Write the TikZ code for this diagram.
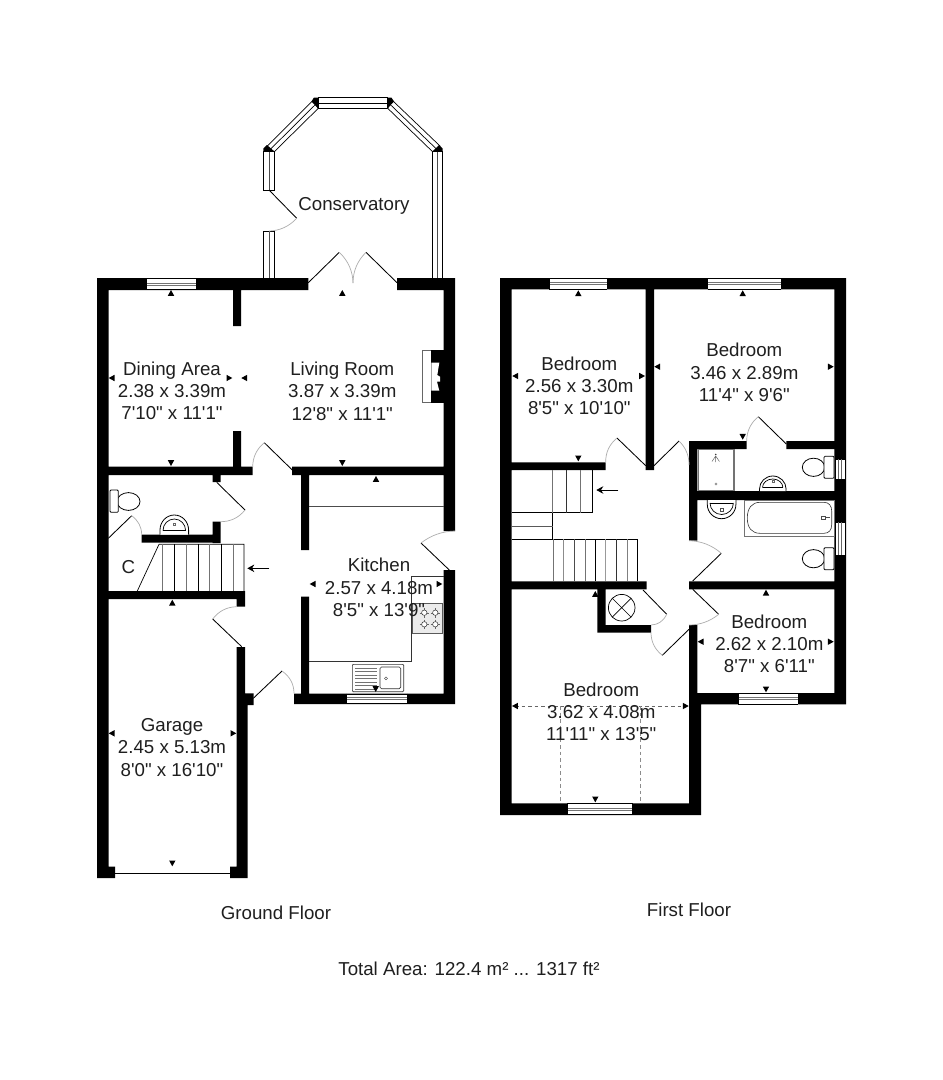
\documentclass[tikz,border=0pt]{standalone}
\usepackage{fontspec}
\newfontfamily\planfont{Liberation Sans}
\usetikzlibrary{calc,arrows.meta}
\definecolor{swinggray}{gray}{0.68}
\definecolor{inkgray}{gray}{0.12}
\tikzset{
  wall/.style={fill=black,draw=none},
  leaf/.style={draw=black,line width=0.85pt},
  swing/.style={draw=swinggray,line width=0.7pt},
  thinline/.style={draw=black,line width=0.7pt},
  fixture/.style={draw=black,line width=0.8pt,fill=white},
  grayfix/.style={draw=black!55,line width=0.9pt},
  tread/.style={draw=black!65,line width=0.65pt},
  roomlabel/.style={font=\planfont\fontsize{18.7}{22.3}\selectfont,align=center,text=inkgray,inner sep=0pt}
}
% markers
\newcommand{\mup}[2]{\fill[black] (#1-3.2,#2+2.8) -- (#1+3.2,#2+2.8) -- (#1,#2-3) -- cycle;}
\newcommand{\mdn}[2]{\fill[black] (#1-3.2,#2-2.8) -- (#1+3.2,#2-2.8) -- (#1,#2+3) -- cycle;}
\newcommand{\mlf}[2]{\fill[black] (#1+2.8,#2-3.2) -- (#1+2.8,#2+3.2) -- (#1-3,#2) -- cycle;}
\newcommand{\mrt}[2]{\fill[black] (#1-2.8,#2-3.2) -- (#1-2.8,#2+3.2) -- (#1+3,#2) -- cycle;}
% door: hinge, leaf tip, arc end (45 degree swing)
\newcommand{\planDoor}[3]{%
  \draw[leaf] (#1) -- (#2);
  \draw[swing] (#2) .. controls ($0.724*(#2)+0.390*(#3)-0.114*(#1)$) and ($0.390*(#2)+0.724*(#3)-0.114*(#1)$) .. (#3);}
% windows
\newcommand{\hwin}[4]{% x1 x2 y1 y2
  \fill[white] (#1,#3) rectangle (#2,#4);
  \draw[black,line width=0.55pt] (#1,#3+0.3) -- (#2,#3+0.3) (#1,#4-0.3) -- (#2,#4-0.3);
  \draw[black!55,line width=0.9pt] (#1,{(#3+#4)/2-1}) -- (#2,{(#3+#4)/2-1}) (#1,{(#3+#4)/2+1}) -- (#2,{(#3+#4)/2+1});
  \draw[black,line width=0.5pt] (#1,#3) -- (#1,#4) (#2,#3) -- (#2,#4);}
\newcommand{\vwin}[4]{% x1 x2 y1 y2
  \fill[white] (#1,#3) rectangle (#2,#4);
  \draw[black,line width=0.65pt] (#1,#3) rectangle (#2,#4);
  \draw[black!70,line width=0.8pt] ({(#1+#2)/2},#3) -- ({(#1+#2)/2},#4);}
\newcommand{\consband}[4]{% outer a, outer b, inner b, inner a
  \draw[black,line width=0.7pt,fill=white] (#1) -- (#2) -- (#3) -- (#4) -- cycle;
  \draw[black,line width=0.7pt] ($(#1)!0.5!(#4)$) -- ($(#2)!0.5!(#3)$);}
% toilet (cistern on right wall)
\newcommand{\wcright}[2]{% x of wall, y centre
  \draw[fixture] (#1-20.5,#2) ellipse (11.2 and 9.1);
  \draw[fixture,rounded corners=1pt] (#1-10,#2-11) rectangle (#1,#2+11);}
\newcommand{\burner}[2]{%
  \draw[black!60,line width=0.4pt] (#1-4.8,#2) -- (#1+4.8,#2) (#1,#2-4.8) -- (#1,#2+4.8);
  \draw[black!80,fill=white,line width=0.5pt] (#1,#2) circle (2.7);}
\begin{document}
\begin{tikzpicture}[x=1pt,y=-1pt]
\useasboundingbox (0,0) rectangle (943,1080);
\fill[white] (0,0) rectangle (943,1080);

%%% ---------- GROUND FLOOR ----------
% conservatory
\vwin{263.3}{274.7}{151.7}{190.3}
\vwin{263.3}{274.7}{231}{278}
\vwin{432.3}{442.7}{151.7}{278}
\consband{265,148.3}{312.7,100.7}{318.3,108.3}{274.3,151.7}
\consband{318,97.7}{387.3,97.7}{387.3,108.3}{318,108.3}
\consband{392.7,100.7}{440,146}{432.6,151.7}{387.7,108.3}
\fill[black] (318,97.7) -- (313.8,97.7) -- (311.5,101.5) -- (318,108.3) -- cycle;
\fill[black] (387.3,97.7) -- (391.5,97.7) -- (394,101.5) -- (387.3,108.3) -- cycle;
\fill[black] (263.3,151.7) -- (263.3,148.5) -- (267,145) -- (274.7,151.7) -- cycle;
\fill[black] (442.7,151.7) -- (442.7,148.5) -- (439,145) -- (432.3,151.7) -- cycle;
\planDoor{269,190}{296.7,218.3}{269,231}
\planDoor{308.3,282.7}{339.3,252.3}{353,283}
\planDoor{397,282.7}{366,252.3}{353,283}

% walls
\fill[wall]
  (97,278) rectangle (308.3,290)
  (397,278) rectangle (455,290)
  (97,278) rectangle (108.5,878)
  (443.5,278) rectangle (455,531)
  (443.5,570) rectangle (455,704)
  (294,693.7) rectangle (455,704)
  (233,290) rectangle (241,326)
  (233,431) rectangle (241,475)
  (108,466.7) rectangle (252.7,475)
  (292,466.7) rectangle (444,475)
  (212.7,475) rectangle (220.7,482)
  (301,475) rectangle (309,550)
  (301,596.7) rectangle (309,694)
  (141.7,534.7) rectangle (220.7,542.7)
  (212.7,521.7) rectangle (220.7,543)
  (108,591) rectangle (245,599)
  (236.7,599) rectangle (245,606.7)
  (236.7,647) rectangle (245,705)
  (236.7,693.3) rectangle (253.7,705)
  (236.7,705) rectangle (247.7,878)
  (97,866.7) rectangle (115,878)
  (230,866.7) rectangle (247.7,878);
\hwin{146}{196}{278}{290}
\hwin{346}{407}{693.7}{704}

% fireplace
\fill[white] (422.3,350.7) rectangle (431.3,402.7);
\draw[black!60,line width=0.6pt] (431.3,350.7) -- (422.3,350.7) -- (422.3,402.7) -- (431.3,402.7);
\fill[wall] (431.3,350) rectangle (444,402.7);
\fill[white] (431.3,362.7) -- (439.3,362.7) -- (437.3,375) -- (440,376.7) -- (440,381.7) -- (437,381.7) -- (439.3,390.7) -- (431.3,390.7) -- cycle;

% doors
\planDoor{292.3,470}{264.3,442.7}{252.7,467}
\planDoor{216.7,482.3}{245,510}{220.7,521.7}
\planDoor{108.3,538.3}{131.7,515.7}{141.7,534.7}
\planDoor{449.3,570}{421,543}{455,531}
\planDoor{241.7,646.7}{212.7,619}{236.7,606.7}
\planDoor{253.3,698.3}{282,671}{294,693.3}

% WC
\draw[fixture] (128.5,501.5) ellipse (11.5 and 8.9);
\draw[fixture,rounded corners=1pt] (110,490) rectangle (118.3,512.3);
\draw[fixture] (160,534.7) -- (160,530) arc[start angle=180,end angle=360,x radius=14.3,y radius=15] -- (188.6,534.7);
\draw[thinline,fill=white] (163,530.5) arc[start angle=180,end angle=360,x radius=11.3,y radius=11.5];
\draw[thinline] (163,530.5) -- (185.6,530.5);
\draw[black!60,line width=0.5pt] (173.2,523) rectangle (175.4,525);

% ground stairs
\draw[thinline] (137.3,591) -- (159,544.3) -- (244,544.3) -- (244,591);
\foreach \x/\c in {162.7/55,174.7/100,186.7/55,198.3/100,209.3/55,221.7/100,233.3/55}
  \draw[black!\c,line width=0.6pt] (\x,544.3) -- (\x,591);
\draw[black,line width=0.9pt,-{Stealth[length=7pt,width=7.5pt]}] (269.3,568.3) -- (247.3,568.3);

% kitchen
\draw[black!70,line width=0.6pt] (309,506.7) -- (444,506.7);
\draw[black!80,line width=0.6pt] (309,661.3) -- (411.7,661.3) -- (411.7,576.7) -- (443.5,576.7);
\fill[black!8] (412.3,603.3) rectangle (442.7,633.3);
\draw[black!65,line width=0.7pt] (412.3,603.3) rectangle (442.7,633.3);
\burner{424.3}{612.7}\burner{435.3}{612.7}\burner{424.3}{624.3}\burner{435.3}{624.3}
\draw[black!80,fill=white,line width=0.6pt,rounded corners=1pt] (352.3,664.3) rectangle (403.7,691.7);
\draw[black!80,line width=0.6pt,rounded corners=1.5pt] (380,667) rectangle (400.7,688.7);
\draw[black!80,line width=0.4pt] (386,678.3) circle (1.5);
\foreach \y in {668,671.5,675,678.5,682,685.5,689}
  \draw[black!55,line width=0.4pt] (355,\y) -- (377.3,\y);

% garage door
\draw[black,line width=0.8pt] (115,873) -- (230,873);

%%% ---------- FIRST FLOOR ----------
\fill[wall]
  (500,278) rectangle (846,289.3)
  (500,278) rectangle (511.7,815)
  (834.3,278) rectangle (846,704.3)
  (645.7,289) rectangle (654,470)
  (511,462.3) rectangle (605.7,470)
  (689,441) rectangle (746.7,449)
  (786.3,441) rectangle (835,449)
  (689,441) rectangle (697.3,540.7)
  (697,491) rectangle (835,500)
  (511,581.3) rectangle (646.7,589.3)
  (689,581.3) rectangle (835,589.3)
  (597.3,589) rectangle (605.7,632.7)
  (597.3,625) rectangle (651,632.7)
  (689,625) rectangle (697.3,693)
  (697,693) rectangle (846,704.3)
  (689,693) rectangle (701,815)
  (500,803.3) rectangle (701,815);
\hwin{549}{607.3}{278}{289.3}
\hwin{707.7}{781}{278}{289.3}
\hwin{738}{798.3}{693}{704.3}
\hwin{567.3}{632.3}{803.3}{815}
\fill[white] (835,459) rectangle (845.3,479.3);
\draw[black,line width=0.55pt] (835,459) rectangle (845.3,479.3);
\draw[black!60,line width=0.7pt] (838.5,459) -- (838.5,479.3) (841.8,459) -- (841.8,479.3);
\fill[white] (835,522.3) rectangle (845.3,555);
\draw[black,line width=0.55pt] (835,522.3) rectangle (845.3,555);
\draw[black!60,line width=0.7pt] (838.5,522.3) -- (838.5,555) (841.8,522.3) -- (841.8,555);

% doors
\planDoor{645.7,465.7}{617,438}{605.7,462.3}
\planDoor{654,465.7}{679,441}{689,465}
\planDoor{786.3,444}{758.3,416.7}{746.7,441}
\planDoor{692.7,581}{721.3,553.3}{689,540.7}
\planDoor{692.7,589.3}{718.7,614.3}{689,625}
\planDoor{643,590}{666.7,614.3}{651,625}
\planDoor{689,629.3}{662.3,655.3}{651,632.7}

% stairs
\draw[thinline] (512,512.7) -- (592.7,512.7) -- (592.7,470);
\draw[thinline] (552.7,512.7) -- (552.7,539);
\draw[tread] (512,526.3) -- (552.7,526.3);
\draw[thinline] (512,539) -- (637.7,539) -- (637.7,581.3);
\foreach \x/\c in {552.7/55,566.7/80,580/55}
  \draw[black!\c,line width=0.6pt] (\x,470) -- (\x,512.7);
\foreach \x/\c in {553.3/55,563.3/45,574.3/70,585/55,595.7/100,605.7/40,616.7/80,627.3/50}
  \draw[black!\c,line width=0.6pt] (\x,539) -- (\x,581.3);
\draw[black,line width=0.9pt,-{Stealth[length=7pt,width=7.5pt]}] (618.3,490) -- (596.3,490);

% cylinder
\draw[black,line width=0.7pt] (621.7,607.7) circle (13.3);
\draw[black,line width=0.7pt] (612.3,598.3) -- (631.1,617.1) (612.3,617.1) -- (631.1,598.3);

% shower
\draw[black!55,line width=1.1pt,fill=white] (698.3,449.8) rectangle (734,490.3);
\draw[black!60,line width=0.5pt] (715.7,456) -- (712,461.5) (715.7,456) -- (719.4,461.5) (715.7,456) -- (715.7,462);
\fill[black!75] (715.7,454.5) circle (0.9);
\draw[black!60,line width=0.4pt] (716,484) circle (1.2);

% en-suite fixtures
\wcright{834}{467.3}
\draw[fixture] (759.5,491) -- (759.5,489) arc[start angle=180,end angle=360,x radius=13.3,y radius=13] -- (786,491);
\draw[thinline,fill=white] (762.5,487.5) arc[start angle=180,end angle=360,x radius=10.2,y radius=8.5];
\draw[thinline] (762.5,487.5) -- (782.9,487.5);
\draw[black!60,line width=0.4pt] (771.7,480.5) rectangle (773.7,482.5);

% bathroom fixtures
\draw[fixture] (707.3,500) -- (707.3,504.5) arc[start angle=180,end angle=0,x radius=14.3,y radius=14.2] -- (736,500);
\draw[thinline,fill=white] (710,503) arc[start angle=180,end angle=0,x radius=11.7,y radius=11.5];
\draw[thinline] (710,503) -- (733.4,503);
\draw[black!70,line width=0.4pt] (720.5,508.5) rectangle (722.9,510.9);
\draw[black!55,line width=0.9pt,fill=white] (744,500) rectangle (834.3,536);
\draw[black!80,line width=0.6pt] (760,502.3) -- (824,502.3) .. controls (829,502.3) and (831.7,506) .. (831.7,511) -- (831.7,524.5) .. controls (831.7,530) and (829,533.3) .. (824,533.3) -- (760,533.3) .. controls (752,533.3) and (747.3,528) .. (747.3,518) .. controls (747.3,508) and (752,502.3) .. (760,502.3) -- cycle;
\draw[black!70,line width=0.5pt] (821.5,515.8) rectangle (825,519.3) (825,517.5) -- (830,517.5);
\wcright{834}{558.7}

% loft dashed lines
\draw[black!60,line width=0.6pt,dash pattern=on 3.5pt off 3pt] (515,706) -- (686,706);
\draw[black!45,line width=0.6pt,dash pattern=on 3.5pt off 3pt] (560.7,706) -- (560.7,803);
\draw[black!45,line width=0.6pt,dash pattern=on 3.5pt off 3pt] (640.7,706) -- (640.7,803);

%%% ---------- MARKERS ----------
\mup{171}{293}\mdn{171}{463}\mlf{111.7}{378}\mrt{229.3}{378}
\mlf{244.3}{378}\mup{342.3}{293}\mdn{342.3}{463}
\mup{376}{479}\mlf{312.7}{584}\mrt{439.3}{584}\mdn{375.7}{689}
\mup{172.3}{602.7}\mlf{111.7}{733.3}\mrt{233.3}{733.3}\mdn{172.3}{863.3}
\mup{578.3}{293.3}\mdn{578.3}{458.3}\mlf{515.3}{376}\mrt{642}{376}
\mup{742.7}{293.3}\mdn{742.7}{436.7}\mlf{657.3}{366.7}\mrt{830.7}{366.7}
\mup{766}{592.7}\mdn{766}{689.3}\mlf{700.7}{641.7}\mrt{830.7}{641.7}
\mup{595.3}{594}\mdn{595.3}{799.3}\mlf{515}{706}\mrt{685.7}{706}

%%% ---------- TEXT ----------
\node[roomlabel] (conservatory) at (354,205.5) {Conservatory};
\node[roomlabel] (dining) at (172,391) {Dining Area\\2.38 x 3.39m\\7'10" x 11'1"};
\node[roomlabel] (living) at (342.3,391.3) {Living Room\\3.87 x 3.39m\\12'8" x 11'1"};
\node[roomlabel] (kitchen) at (379,587.5) {Kitchen\\2.57 x 4.18m\\8'5" x 13'9"};
\node[roomlabel] (cupboard) at (128.3,567.3) {C};
\node[roomlabel] (garage) at (172,747.5) {Garage\\2.45 x 5.13m\\8'0" x 16'10"};
\node[roomlabel] (bedA) at (579.3,386) {Bedroom\\2.56 x 3.30m\\8'5" x 10'10"};
\node[roomlabel] (bedB) at (744.3,372.5) {Bedroom\\3.46 x 2.89m\\11'4" x 9'6"};
\node[roomlabel] (bedC) at (769.3,644) {Bedroom\\2.62 x 2.10m\\8'7" x 6'11"};
\node[roomlabel] (bedD) at (601.3,711.7) {Bedroom\\3.62 x 4.08m\\11'11" x 13'5"};
\node[roomlabel] (groundfloor) at (276,913) {Ground Floor};
\node[roomlabel] (firstfloor) at (689,910) {First Floor};
\node[roomlabel] (total) at (469,969) {Total Area: 122.4 m² ... 1317 ft²};
\end{tikzpicture}
\end{document}
